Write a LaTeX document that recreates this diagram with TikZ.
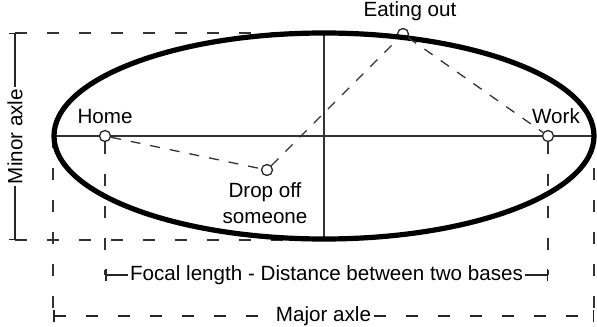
\documentclass[tikz,border=0pt]{standalone}
\usepackage{fontspec}
\setmainfont{Liberation Sans}
\usetikzlibrary{positioning, arrows.meta}

\begin{document}
\begin{tikzpicture}[
        x=0.5pt, y=-0.5pt,
        every node/.style={font=\fontsize{10.3}{13}\selectfont},
        axis/.style={draw=black!80, line width=0.75pt},
        guide/.style={draw=black!80, line width=0.75pt, dash pattern=on 6pt off 10pt},
        route/.style={draw=black!80, line width=0.65pt, dash pattern=on 5pt off 5pt},
        base/.style={circle, draw=black!85, line width=0.65pt, minimum size=5.5pt, inner sep=0pt},
        dim/.style={draw=black!85, line width=0.75pt, {Bar[width=6pt]}-{Bar[width=6pt]}},
        dimlabel/.style={fill=white, inner sep=1pt},
        place/.style={align=center, inner sep=3pt},
    ]
    \useasboundingbox (0,0) rectangle (597,326);

    % === FRAME POINTS ===
    \coordinate (c) at (324,136);
    \coordinate (left) at (53,136);
    \coordinate (right) at (594,136);
    \coordinate (top) at (324,33);
    \coordinate (bottom) at (324,240);
    \coordinate (mintop) at (15,33);
    \coordinate (minbot) at (15,240);
    \coordinate (majl) at (53,316);
    \coordinate (majr) at (594,316);
    \coordinate (focl) at (105,275);
    \coordinate (focr) at (548,275);

    % === BASES ===
    \node[base] (home) at (105,136) {};
    \node[base] (work) at (548,136) {};
    \node[base] (dropoff) at (267,170) {};
    \node[base] (eatout) at (403,34) {};

    % guide lines
    \draw[guide] (mintop) -- (top);
    \draw[guide] (minbot) -- (bottom);
    \draw[guide] (left) -- (majl);
    \draw[guide] (right) -- (majr);
    \draw[guide] (home.south) -- (focl);
    \draw[guide] (work.south) -- (focr);

    % axes
    \draw[axis] (left) -- (home.west);
    \draw[axis] (home.east) -- (work.west);
    \draw[axis] (work.east) -- (right);
    \draw[axis] (top) -- (bottom);

    % === ELLIPSE ===
    \draw[line width=2.6pt] (c) ellipse [x radius=270, y radius=103];

    % route between the bases
    \draw[route] (home) -- (dropoff);
    \draw[route] (dropoff) -- (eatout);
    \draw[route] (eatout) -- (work);

    % labels
    \node[place, above=0pt of home] {Home};
    \node[place, above=0pt of work, xshift=4pt] {Work};
    \node[place, above=0.5pt of eatout, xshift=3.5pt] {Eating out};
    \node[place, below=0pt of dropoff, xshift=-1pt] {Drop off\\someone};

    % === DIMENSIONS ===
    \draw[dim] (mintop) -- (minbot) node[midway, rotate=90, dimlabel] {Minor axle};
    \draw[dim] (focl) -- (focr) node[midway, dimlabel] {Focal length - Distance between two bases};
    \draw[dim, dash pattern=on 6pt off 10pt] (majl) -- (majr) node[midway, dimlabel] {Major axle};

\end{tikzpicture}
\end{document}
